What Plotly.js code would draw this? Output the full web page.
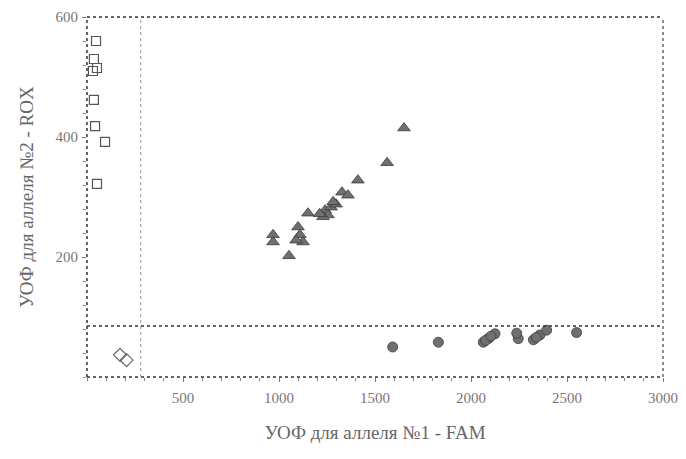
<!DOCTYPE html>
<html>
<head>
<meta charset="utf-8">
<script src="https://cdn.plot.ly/plotly-3.0.1.min.js"></script>
<style>html,body{margin:0;padding:0;background:#fff;}#chart{width:686px;height:459px;}</style>
</head>
<body>
<div id="chart"></div>
<script>
// Allele 2 homozygotes (open squares)
const sqX = [47, 36, 52, 31, 36, 42, 94, 52];
const sqY = [560, 530, 515, 510, 462, 418, 392, 322];
// No-template controls (open diamonds)
const dmX = [172, 206];
const dmY = [37, 28];
// Heterozygotes (filled triangles)
const trX = [1651, 1563, 1411, 1328, 1359, 1240, 1271, 1255, 1229, 1297, 1151, 1099, 1109, 1125, 1089, 969, 969, 1052, 1212, 1282];
const trY = [415, 357, 328, 308, 303, 278, 283, 270, 267, 288, 273, 250, 237, 225, 228, 237, 225, 202, 272, 292];
// Allele 1 homozygotes (filled circles)
const ciX = [1592, 1830, 2064, 2090, 2125, 2246, 2238, 2325, 2359, 2394, 2550, 2076, 2104, 2340];
const ciY = [50, 58, 58, 64, 72, 64, 73, 62, 70, 78, 74, 61, 68, 66];
// Axis ticks
const xTicks = [500, 1000, 1500, 2000, 2500, 3000];
const yTicks = [200, 400, 600];
// Threshold lines
const xCut = 280;
const yCut = 85;

const traces = [
  {x: sqX, y: sqY, mode: 'markers', type: 'scatter',
   marker: {symbol: 'square-open', size: 9, color: '#555', line: {width: 1.2}}},
  {x: dmX, y: dmY, mode: 'markers', type: 'scatter',
   marker: {symbol: 'diamond-open', size: 10, color: '#666', line: {width: 1.2}}},
  {x: trX, y: trY, mode: 'markers', type: 'scatter',
   marker: {symbol: 'triangle-up', size: 11, color: '#707070', line: {color: '#3a3a3a', width: 0.8}}},
  {x: ciX, y: ciY, mode: 'markers', type: 'scatter',
   marker: {symbol: 'circle', size: 10, color: '#707070', line: {color: '#3a3a3a', width: 0.8}}}
];

const serif = 'Liberation Serif, DejaVu Serif, serif';
const layout = {
  width: 686, height: 459,
  margin: {l: 87, r: 23, t: 17, b: 82},
  paper_bgcolor: '#fff', plot_bgcolor: '#fff',
  showlegend: false,
  font: {family: serif, color: '#666'},
  xaxis: {
    range: [0, 3000], tickvals: xTicks, showgrid: false, zeroline: false,
    showline: false, ticks: 'outside', ticklen: 4, tickcolor: '#777', tickwidth: 1,
    minor: {dtick: 100, tick0: 0, ticks: 'outside', ticklen: 3, tickcolor: '#888', showgrid: false},
    tickfont: {family: serif, size: 15, color: '#777'},
    ticklabelstandoff: 3,
    title: {text: 'УОФ для аллеля №1 - FAM', font: {family: serif, size: 19, color: '#666'}, standoff: 20}
  },
  yaxis: {
    range: [0, 600], tickvals: yTicks, showgrid: false, zeroline: false,
    showline: false, ticks: 'outside', ticklen: 4, tickcolor: '#777', tickwidth: 1,
    minor: {dtick: 40, tick0: 0, ticks: 'outside', ticklen: 3, tickcolor: '#888', showgrid: false},
    tickfont: {family: serif, size: 15, color: '#777'},
    ticklabelstandoff: 1,
    title: {text: 'УОФ для аллеля №2 - ROX', font: {family: serif, size: 19, color: '#666'}, standoff: 16}
  },
  shapes: [
    {type: 'line', xref: 'paper', yref: 'paper', x0: 0, x1: 1, y0: 0, y1: 0, line: {color: '#333', width: 1.5, dash: 'dot'}},
    {type: 'line', xref: 'paper', yref: 'paper', x0: 0, x1: 1, y0: 1, y1: 1, line: {color: '#333', width: 1.5, dash: 'dot'}},
    {type: 'line', xref: 'paper', yref: 'paper', x0: 0, x1: 0, y0: 0, y1: 1, line: {color: '#333', width: 1.5, dash: 'dot'}},
    {type: 'line', xref: 'paper', yref: 'paper', x0: 1, x1: 1, y0: 0, y1: 1, line: {color: '#444', width: 1.2, dash: 'dot'}},
    {type: 'line', xref: 'x', yref: 'paper', x0: xCut, x1: xCut, y0: 0, y1: 1, line: {color: '#999', width: 1, dash: 'dot'}},
    {type: 'line', xref: 'paper', yref: 'y', x0: 0, x1: 1, y0: yCut, y1: yCut, line: {color: '#333', width: 1.3, dash: 'dot'}}
  ]
};
Plotly.newPlot('chart', traces, layout, {displayModeBar: false, staticPlot: true});
</script>
</body>
</html>
